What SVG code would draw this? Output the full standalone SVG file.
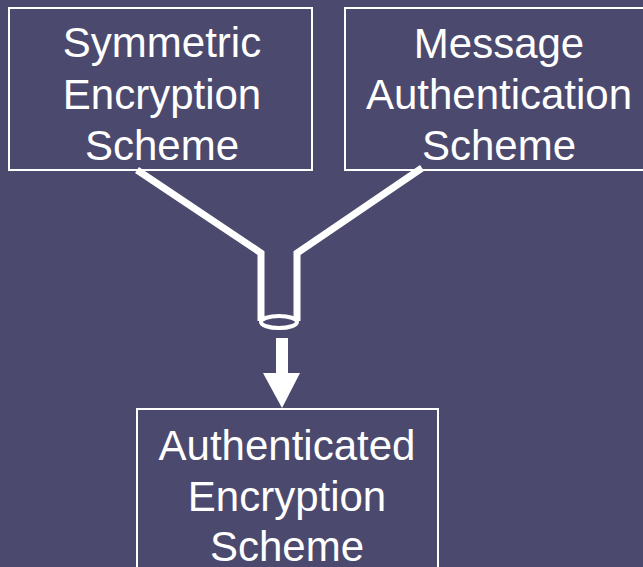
<svg xmlns="http://www.w3.org/2000/svg" width="643" height="567" viewBox="0 0 643 567">
<style>
.box{fill:none;stroke:#fff;stroke-width:2}
.t{font-family:"Liberation Sans",Arial,sans-serif;font-size:42px;fill:#fff;text-anchor:middle}
.ln{fill:none;stroke:#fff;stroke-width:7;stroke-linejoin:miter}
</style>
<rect width="643" height="567" fill="#4b4a6e"/>
<g id="sym">
<rect class="box" x="9" y="8" width="303" height="162"/>
<text class="t" x="162" y="57">Symmetric</text>
<text class="t" x="162" y="109">Encryption</text>
<text class="t" x="162" y="160">Scheme</text>
</g>
<g id="mac">
<rect class="box" x="345" y="8" width="310" height="162"/>
<text class="t" x="499" y="58">Message</text>
<text class="t" x="499" y="109">Authentication</text>
<text class="t" x="499" y="160">Scheme</text>
</g>
<g id="ae">
<rect class="box" x="137" y="409" width="301" height="170"/>
<text class="t" x="287" y="460">Authenticated</text>
<text class="t" x="287" y="511">Encryption</text>
<text class="t" x="287" y="561">Scheme</text>
</g>
<g id="connectors">
<polyline class="ln" points="137,170 261,253 261,321"/>
<polyline class="ln" points="422,168 297,253 297,321"/>
<ellipse cx="279" cy="322" rx="18" ry="6" fill="none" stroke="#fff" stroke-width="4"/>
<rect x="276" y="338" width="12" height="36" fill="#fff"/>
<polygon points="263,373 300,373 282,408" fill="#fff"/>
</g>
</svg>
